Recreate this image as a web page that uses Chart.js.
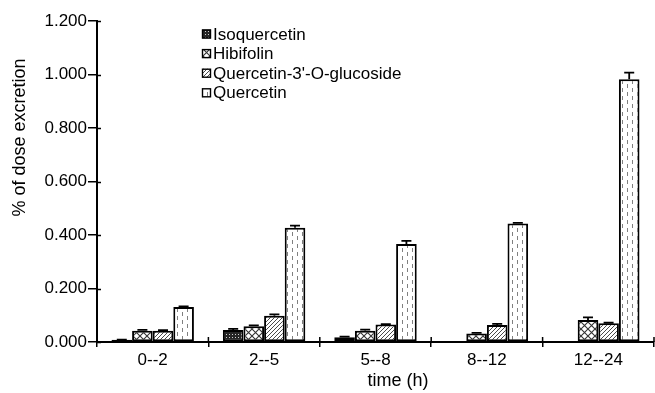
<!DOCTYPE html>
<html>
<head>
<meta charset="utf-8">
<script src="https://cdn.jsdelivr.net/npm/chart.js@4.4.1/dist/chart.umd.min.js"></script>
<style>
html,body{margin:0;padding:0;background:#fff;}
canvas{display:block;}
</style>
</head>
<body>
<canvas id="c" width="655" height="393"></canvas>
<script>
// ---- data ----
const categories = ['0--2', '2--5', '5--8', '8--12', '12--24'];
const seriesNames = ['Isoquercetin', 'Hibifolin', "Quercetin-3'-O-glucoside", 'Quercetin'];
const isoquercetin = [0.008, 0.045, 0.018, 0, 0];
const isoquercetinErr = [0.001, 0.004, 0.002, 0, 0];
const hibifolin = [0.042, 0.059, 0.042, 0.032, 0.082];
const hibifolinErr = [0.003, 0.003, 0.004, 0.002, 0.010];
const q3g = [0.042, 0.098, 0.065, 0.064, 0.070];
const q3gErr = [0.002, 0.005, 0.002, 0.004, 0.002];
const quercetin = [0.131, 0.427, 0.366, 0.443, 0.982];
const quercetinErr = [0.002, 0.008, 0.012, 0.002, 0.025];
const yTickLabels = ['0.000', '0.200', '0.400', '0.600', '0.800', '1.000', '1.200'];
const xTitle = 'time (h)';
const yTitle = '% of dose excretion';

// ---- patterns ----
function makePattern(type) {
  const c = document.createElement('canvas');
  const g = c.getContext('2d');
  if (type === 'dots') {
    c.width = 3; c.height = 3;
    g.fillStyle = '#262626'; g.fillRect(0, 0, 3, 3);
    g.fillStyle = '#d0d0d0'; g.fillRect(1, 1, 1, 1);
  } else if (type === 'cross') {
    c.width = 7; c.height = 7;
    g.fillStyle = '#fff'; g.fillRect(0, 0, 7, 7);
    g.strokeStyle = '#333'; g.lineWidth = 1.1;
    g.beginPath();
    g.moveTo(-1, -1); g.lineTo(8, 8);
    g.moveTo(8, -1); g.lineTo(-1, 8);
    g.stroke();
  } else if (type === 'diag') {
    c.width = 4; c.height = 4;
    g.fillStyle = '#fff'; g.fillRect(0, 0, 4, 4);
    g.strokeStyle = '#4a4a4a'; g.lineWidth = 1;
    g.beginPath(); g.moveTo(0, 4); g.lineTo(4, 0); g.moveTo(-1, 1); g.lineTo(1, -1); g.moveTo(3, 5); g.lineTo(5, 3); g.stroke();
  } else {
    c.width = 10; c.height = 8;
    g.fillStyle = '#fff'; g.fillRect(0, 0, 10, 8);
    g.fillStyle = '#808080';
    g.fillRect(2, 0, 1, 4);
    g.fillRect(7, 4, 1, 4);
  }
  return g.createPattern(c, 'repeat');
}
const fills = [makePattern('dots'), makePattern('cross'), makePattern('diag'), makePattern('vdash')];
const values = [isoquercetin, hibifolin, q3g, quercetin];
const errors = [isoquercetinErr, hibifolinErr, q3gErr, quercetinErr];

const FONT = '"Liberation Sans", Arial, sans-serif';

const extras = {
  id: 'extras',
  afterDatasetsDraw(chart) {
    const ctx = chart.ctx, ys = chart.scales.y;
    ctx.save();
    ctx.strokeStyle = '#000';
    ctx.lineWidth = 1.8;
    chart.data.datasets.forEach((ds, i) => {
      const meta = chart.getDatasetMeta(i);
      meta.data.forEach((bar, j) => {
        const e = errors[i][j];
        if (!e) return;
        const top = ys.getPixelForValue(values[i][j] + e);
        const base = ys.getPixelForValue(values[i][j]);
        ctx.beginPath();
        ctx.moveTo(bar.x, base); ctx.lineTo(bar.x, top);
        ctx.moveTo(bar.x - 5, top); ctx.lineTo(bar.x + 5, top);
        ctx.stroke();
      });
    });
    ctx.restore();
  },
  afterDraw(chart) {
    const ctx = chart.ctx, xs = chart.scales.x, ys = chart.scales.y;
    ctx.save();
    ctx.strokeStyle = '#000';
    ctx.lineWidth = 1.5;
    // inner parts of tick marks
    ctx.beginPath();
    ys.ticks.forEach((t, k) => {
      const py = Math.round(ys.getPixelForTick(k)) + 0.5;
      ctx.moveTo(xs.left, py); ctx.lineTo(xs.left + 4, py);
    });
    for (let k = 1; k <= categories.length; k++) {
      const px = xs.getPixelForValue(k - 0.5);
      ctx.moveTo(px, ys.bottom); ctx.lineTo(px, ys.bottom - 5);
    }
    ctx.stroke();
    // legend
    ctx.font = '17px ' + FONT;
    ctx.textBaseline = 'middle';
    ctx.textAlign = 'left';
    seriesNames.forEach((name, i) => {
      const cy = 34 + i * 19.6;
      ctx.fillStyle = fills[i];
      ctx.fillRect(202, cy - 4.5, 9, 9);
      ctx.lineWidth = 1.4;
      ctx.strokeRect(202.5, cy - 4, 8, 8);
      ctx.fillStyle = '#000';
      ctx.fillText(name, 213, cy + 1);
    });
    // axis titles
    ctx.font = '18px ' + FONT;
    ctx.textAlign = 'center';
    ctx.fillText(xTitle, 398, 381);
    ctx.translate(20, 137.5);
    ctx.rotate(-Math.PI / 2);
    ctx.fillText(yTitle, 0, 0);
    ctx.restore();
  }
};

new Chart(document.getElementById('c'), {
  type: 'bar',
  data: {
    labels: categories,
    datasets: seriesNames.map((n, i) => ({
      label: n,
      data: values[i],
      backgroundColor: fills[i],
      borderColor: '#000',
      borderWidth: 2,
      borderSkipped: false,
      categoryPercentage: 0.74,
      barPercentage: 1.0
    }))
  },
  options: {
    responsive: false,
    animation: false,
    devicePixelRatio: 1,
    layout: { padding: { top: 21, right: 1, left: 0, bottom: 0 } },
    plugins: { legend: { display: false }, tooltip: { enabled: false } },
    scales: {
      x: {
        grid: { display: true, drawOnChartArea: false, drawTicks: true, tickLength: 5, color: '#000', lineWidth: 1.5, offset: true },
        border: { display: true, color: '#000', width: 2 },
        ticks: { color: '#000', font: { family: FONT, size: 17 }, padding: 3 },
        afterFit(s) { s.height = 51; }
      },
      y: {
        min: 0, max: 1.2,
        grid: { display: true, drawOnChartArea: false, drawTicks: true, tickLength: 9, color: '#000', lineWidth: 1.5 },
        border: { display: true, color: '#000', width: 2 },
        ticks: {
          color: '#000', font: { family: FONT, size: 17 }, stepSize: 0.2, padding: 1,
          callback: (v, k) => yTickLabels[k]
        },
        afterFit(s) { s.width = 97; }
      }
    }
  },
  plugins: [extras]
});
</script>
</body>
</html>
